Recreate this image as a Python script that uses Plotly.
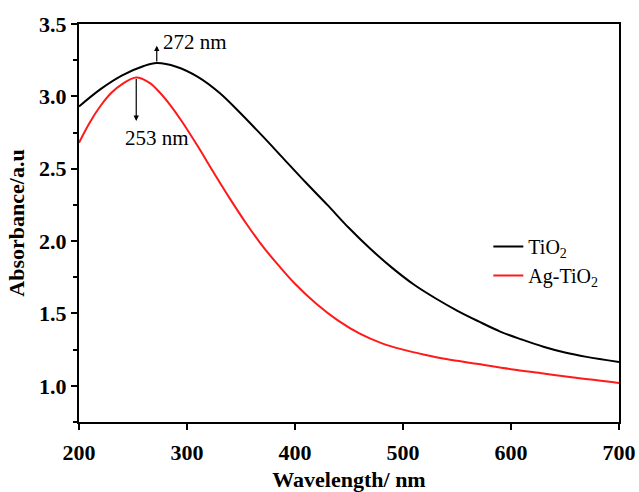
import plotly.graph_objects as go

# Data
tio2_wl = [200, 220, 240, 260, 272, 290, 310, 330, 350, 370, 390, 410, 430, 450,
           470, 490, 510, 530, 550, 570, 590, 610, 630, 650, 670, 700]
tio2_abs = [2.93, 3.05, 3.145, 3.21, 3.23, 3.205, 3.135, 3.025, 2.88, 2.725, 2.565,
            2.405, 2.25, 2.09, 1.945, 1.815, 1.70, 1.605, 1.52, 1.445, 1.375, 1.32,
            1.27, 1.23, 1.20, 1.165]

ag_wl = [200, 210, 220, 230, 240, 253, 265, 275, 285, 295, 310, 325, 340, 355,
         370, 385, 400, 420, 440, 460, 480, 500, 520, 540, 570, 600, 630, 660, 700]
ag_abs = [2.68, 2.82, 2.935, 3.025, 3.085, 3.13, 3.095, 3.025, 2.935, 2.83, 2.655,
          2.47, 2.29, 2.12, 1.965, 1.83, 1.705, 1.565, 1.45, 1.36, 1.295, 1.25,
          1.215, 1.185, 1.15, 1.115, 1.085, 1.055, 1.02]

x_ticks = [200, 300, 400, 500, 600, 700]
y_ticks = [1.0, 1.5, 2.0, 2.5, 3.0, 3.5]
peak_tio2 = (272, 3.23)
peak_ag = (253, 3.13)

SERIF = "Liberation Serif, Times New Roman, serif"

fig = go.Figure()
fig.add_trace(go.Scatter(x=tio2_wl, y=tio2_abs, mode="lines", name="TiO<sub>2</sub>",
                         line=dict(color="black", width=2, shape="spline", smoothing=1)))
fig.add_trace(go.Scatter(x=ag_wl, y=ag_abs, mode="lines", name="Ag-TiO<sub>2</sub>",
                         line=dict(color="#ff1a1a", width=2, shape="spline", smoothing=1)))

# Peak arrows
fig.add_annotation(x=peak_tio2[0], y=3.35, ax=peak_tio2[0], ay=peak_tio2[1],
                   xref="x", yref="y", axref="x", ayref="y", text="",
                   showarrow=True, arrowhead=2, arrowsize=0.9, arrowwidth=1.2,
                   arrowcolor="black")
fig.add_annotation(x=276, y=3.375, xref="x", yref="y", text="272 nm",
                   showarrow=False, xanchor="left", yanchor="middle",
                   font=dict(family=SERIF, size=21, color="black"))
fig.add_annotation(x=peak_ag[0], y=2.83, ax=peak_ag[0], ay=peak_ag[1],
                   xref="x", yref="y", axref="x", ayref="y", text="",
                   showarrow=True, arrowhead=2, arrowsize=0.9, arrowwidth=1.2,
                   arrowcolor="black")
fig.add_annotation(x=272.5, y=2.71, xref="x", yref="y", text="253 nm",
                   showarrow=False, xanchor="center", yanchor="middle",
                   font=dict(family=SERIF, size=21, color="black"))

axis_common = dict(showline=True, linecolor="black", linewidth=2, mirror=True,
                   showgrid=False, zeroline=False, ticks="outside",
                   tickcolor="black", tickwidth=2, ticklen=6, automargin=False,
                   tickfont=dict(family=SERIF, size=22, color="black"))

fig.update_xaxes(range=[200, 700], tickvals=x_ticks,
                 ticktext=["<b>%d</b>" % v for v in x_ticks],
                 ticklabelstandoff=4,
                 title=dict(text="<b>Wavelength/ nm</b>", standoff=20,
                            font=dict(family=SERIF, size=22, color="black")),
                 **axis_common)
fig.update_yaxes(range=[0.75, 3.5], tickvals=y_ticks,
                 ticktext=["<b>%.1f</b>" % v for v in y_ticks],
                 minor=dict(ticks="outside", dtick=0.25, ticklen=4, tickwidth=2,
                            tickcolor="black", showgrid=False),
                 title=dict(text="<b>Absorbance/a.u</b>", standoff=8,
                            font=dict(family=SERIF, size=22, color="black")),
                 **axis_common)

fig.update_layout(
    width=639, height=492,
    margin=dict(l=79, r=20, t=24, b=70),
    plot_bgcolor="white", paper_bgcolor="white",
    showlegend=True,
    legend=dict(x=0.758, y=0.49, xanchor="left", yanchor="top",
                bgcolor="rgba(0,0,0,0)", borderwidth=0, tracegroupgap=0,
                font=dict(family=SERIF, size=20, color="black")),
)

fig.write_html("out.html")
